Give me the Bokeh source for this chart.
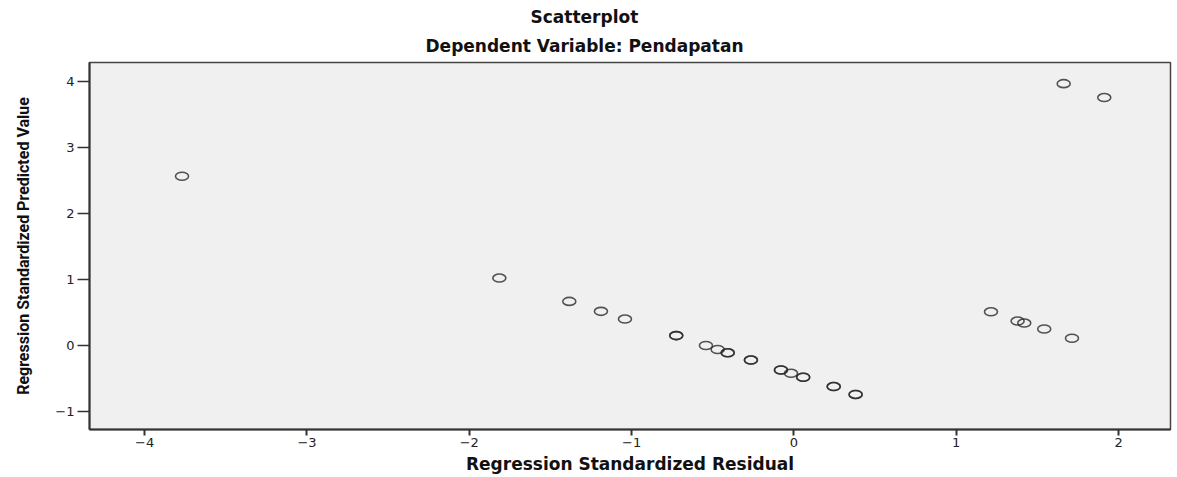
from bokeh.plotting import figure
from bokeh.models import Title, Range1d, FixedTicker, ColumnDataSource
from bokeh.embed import file_html
from bokeh.resources import INLINE

# Data (duplicates make the darker circles)
residual = [-3.77, -1.815, -1.384, -1.189, -1.041,
            -0.725, -0.725, -0.542, -0.47, -0.408, -0.408,
            -0.265, -0.265, -0.08, -0.08, -0.018, 0.057, 0.057,
            0.245, 0.245, 0.38, 0.38,
            1.214, 1.378, 1.419, 1.542, 1.713, 1.662, 1.912]
predicted = [2.56, 1.02, 0.667, 0.517, 0.40,
             0.15, 0.15, 0.0, -0.06, -0.11, -0.11,
             -0.22, -0.22, -0.37, -0.37, -0.42, -0.48, -0.48,
             -0.62, -0.62, -0.74, -0.74,
             0.51, 0.37, 0.34, 0.25, 0.11, 3.96, 3.75]
x_ticks = [-4, -3, -2, -1, 0, 1, 2]
y_ticks = [-1, 0, 1, 2, 3, 4]

title_text = "Scatterplot"
subtitle_text = "Dependent Variable: Pendapatan"
x_label = "Regression Standardized Residual"
y_label = "Regression Standardized Predicted Value"

src = ColumnDataSource(data=dict(x=residual, y=predicted))

p = figure(width=1173, height=476, output_backend="svg", toolbar_location=None,
           x_range=Range1d(-4.34, 2.32), y_range=Range1d(-1.27, 4.28),
           min_border_left=89, min_border_right=3, min_border_top=62,
           min_border_bottom=46)
p.title = None
p.background_fill_color = "#F0F0F0"
p.border_fill_color = "white"
p.outline_line_color = "#444444"
p.outline_line_width = 1.5
p.grid.visible = False

p.add_layout(Title(text=subtitle_text, align="left", offset=336,
                   text_font="DejaVu Sans", text_font_size="17px",
                   text_font_style="bold", text_color="#111111", standoff=14), "above")
p.add_layout(Title(text=title_text, align="left", offset=441,
                   text_font="DejaVu Sans", text_font_size="17px",
                   text_font_style="bold", text_color="#111111", standoff=0), "above")

p.ellipse(x="x", y="y", width=13, height=8, width_units="screen",
          height_units="screen", source=src, fill_color=None,
          line_color="#2a2a2a", line_width=1.6, line_alpha=0.8)

for ax in (p.xaxis[0], p.yaxis[0]):
    ax.axis_line_color = "#333333"
    ax.axis_line_width = 2
    ax.major_tick_line_color = "#333333"
    ax.major_tick_in = 0
    ax.minor_tick_line_color = None
    ax.major_label_text_font = "DejaVu Sans"
    ax.major_label_text_font_size = "13px"
    ax.major_label_text_color = "#222222"
    ax.axis_label_text_color = "#111111"
    ax.axis_label_text_font_style = "bold"

p.xaxis[0].ticker = FixedTicker(ticks=x_ticks)
p.yaxis[0].ticker = FixedTicker(ticks=y_ticks)
p.xaxis[0].major_tick_out = 6
p.xaxis[0].major_tick_line_width = 2
p.yaxis[0].major_tick_out = 12
p.yaxis[0].major_tick_line_width = 1.5
p.xaxis[0].axis_label = x_label
p.xaxis[0].axis_label_text_font = "DejaVu Sans"
p.xaxis[0].axis_label_text_font_size = "17px"
p.xaxis[0].axis_label_standoff = 4
p.xaxis[0].major_label_standoff = 2
p.yaxis[0].axis_label = y_label
p.yaxis[0].axis_label_text_font = "Roboto"
p.yaxis[0].axis_label_text_font_size = "16px"
p.yaxis[0].axis_label_standoff = 19
p.yaxis[0].major_label_standoff = 3

open("out.html", "w").write(file_html(p, INLINE))
